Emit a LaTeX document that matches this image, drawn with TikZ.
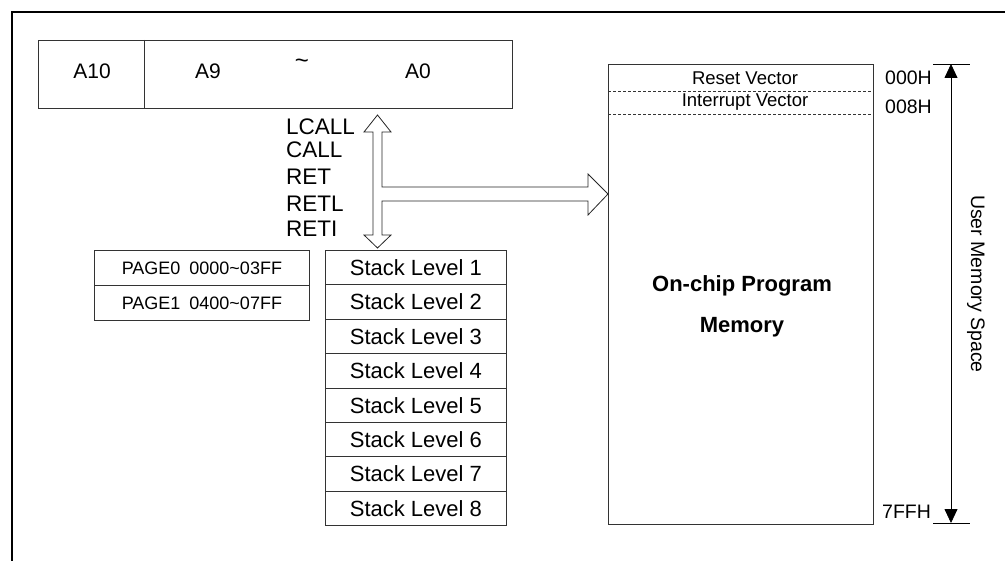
\documentclass[tikz,border=0pt]{standalone}
\usepackage{fontspec}
\setmainfont{Liberation Sans}
\usetikzlibrary{arrows.meta}
\newcommand\fsz[1]{\fontsize{#1}{#1}\selectfont}
\begin{document}
\begin{tikzpicture}[x=1pt,y=-1pt,
  thinbox/.style={draw=black!80, line width=0.8pt, inner sep=0pt, anchor=north west},
  stackbox/.style={thinbox, minimum width=181pt, minimum height=34.4pt, font=\fsz{22}},
  pagebox/.style={thinbox, minimum width=215pt, minimum height=35pt, font=\fsz{18}},
  lbl/.style={inner sep=0pt},
  hollow/.style={draw=black!85, line width=0.8pt, fill=white, line join=miter}]
\useasboundingbox (0,0) rectangle (1005,561);
% outer frame
\draw[line width=2.2pt] (12,562) -- (12,12) -- (1006,12);
% address register
\node[thinbox, minimum width=474pt, minimum height=68pt] (addr) at (38,40) {};
\draw[black!80, line width=0.8pt] (144,40) -- (144,108);
\node[lbl, font=\fsz{21}] (a10) at (92,71) {A10};
\node[lbl, font=\fsz{21}] (a9) at (208,71) {A9};
\node[lbl, font=\fsz{24}] (til) at (302,64) {\textasciitilde};
\node[lbl, font=\fsz{21}] (a0) at (418,71) {A0};
% instruction labels
\node[lbl, anchor=west, font=\fsz{22.5}] (lcall) at (286,127) {LCALL};
\node[lbl, anchor=west, font=\fsz{22.5}] (call) at (286,149.5) {CALL};
\node[lbl, anchor=west, font=\fsz{22.5}] (ret) at (286,177) {RET};
\node[lbl, anchor=west, font=\fsz{22.5}] (retl) at (286,204) {RETL};
\node[lbl, anchor=west, font=\fsz{22.5}] (reti) at (286,229) {RETI};
% page table
\node[pagebox] (p0) at (94,250) {PAGE0\hspace{0.5em}0000\textasciitilde03FF};
\node[pagebox] (p1) at (94,285) {PAGE1\hspace{0.5em}0400\textasciitilde07FF};
% stack
\foreach \i in {1,...,8}{
  \node[stackbox] (s\i) at (325,{250+(\i-1)*34.4}) {Stack Level \i};
}
% program memory
\node[thinbox, minimum width=265pt, minimum height=460pt] (mem) at (608,64) {};
\draw[black!80, line width=0.8pt, dash pattern=on 3pt off 2pt] (608,91) -- (873,91);
\draw[black!80, line width=0.8pt, dash pattern=on 3pt off 2pt] (608,114) -- (873,114);
\node[lbl, font=\fsz{18.5}] (rv) at (745,78) {Reset Vector};
\node[lbl, font=\fsz{18.5}] (iv) at (745,102) {Interrupt Vector};
\node[lbl, font=\bfseries\fontsize{22}{41}\selectfont, align=center] (ocm) at (742,306) {On-chip Program\\Memory};
% addresses
\node[lbl, anchor=west, font=\fsz{19.5}] (ad0) at (885,78) {000H};
\node[lbl, anchor=west, font=\fsz{19.5}] (ad8) at (885,107) {008H};
\node[lbl, anchor=west, font=\fsz{19.5}] (ad7) at (882,512) {7FFH};
% user memory space arrow
\coordinate (ut) at (951,64);
\coordinate (ub) at (951,523);
\draw[black, line width=0.8pt] (933,64) -- (970,64);
\draw[black, line width=0.8pt] (933,523) -- (970,523);
\draw[black, line width=0.8pt, {Triangle[width=13pt,length=14pt]}-{Triangle[width=13pt,length=14pt]}] (ut) -- (ub);
\node[lbl, rotate=-90, font=\fsz{19.5}] (ums) at (976,284) {User Memory Space};
% hollow arrows: address <-> stack, and to memory
\draw[hollow] (377.5,115) -- (391,132) -- (382,132) -- (382,187) -- (588,187) -- (588,174)
  -- (608,194) -- (588,215) -- (588,201) -- (382,201) -- (382,235) -- (391,235)
  -- (377.5,248) -- (364,235) -- (373,235) -- (373,132) -- (364,132) -- cycle;
\end{tikzpicture}
\end{document}
